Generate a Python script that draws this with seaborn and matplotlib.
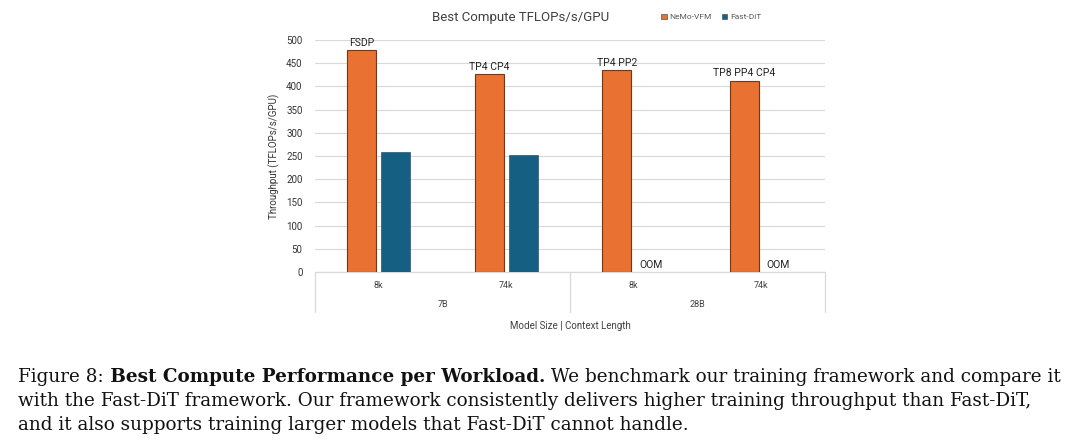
import numpy as np
import pandas as pd
import matplotlib
matplotlib.use("Agg")
import matplotlib.pyplot as plt
import matplotlib.transforms as mtransforms
import seaborn as sns

# =====================================================
# DATA
# =====================================================

model_sizes = ["7B", "7B", "28B", "28B"]
context_lengths = ["8k", "74k", "8k", "74k"]
nemo_vfm = [478, 426, 435, 412]
fast_dit = [259, 252, np.nan, np.nan]
parallel_labels = ["FSDP", "TP4 CP4", "TP4 PP2", "TP8 PP4 CP4"]
frameworks = ["NeMo-VFM", "Fast-DiT"]
yticks = [0, 50, 100, 150, 200, 250, 300, 350, 400, 450, 500]

caption_lines = [
    [("Figure 8:", "normal"), (" Best Compute Performance per Workload.", "bold"),
     (" We benchmark our training framework and compare it", "normal")],
    [("with the Fast-DiT framework. Our framework consistently delivers higher training throughput than Fast-DiT,", "normal")],
    [("and it also supports training larger models that Fast-DiT cannot handle.", "normal")],
]

# =====================================================
# STYLE
# =====================================================

sns.set_theme(style="white")
plt.rcParams["font.family"] = ["Roboto", "DejaVu Sans"]

ORANGE = "#E97132"
BLUE = "#156082"
GRID = "#d9d9d9"
TEXT = "#404040"

# =====================================================
# LONG FORM TABLE
# =====================================================

slots = [f"{m}|{c}" for m, c in zip(model_sizes, context_lengths)]
df = pd.DataFrame({
    "slot": slots * 2,
    "framework": [frameworks[0]] * 4 + [frameworks[1]] * 4,
    "value": list(nemo_vfm) + list(fast_dit),
})

# =====================================================
# FIGURE
# =====================================================

fig = plt.figure(figsize=(10.8, 4.48), dpi=100)
ax = fig.add_axes([0.2917, 0.393, 0.4722, 0.5178])

BAR_WIDTH = 0.53
sns.barplot(
    data=df, x="slot", y="value", hue="framework", order=slots,
    hue_order=frameworks, palette=[ORANGE, BLUE], saturation=1,
    width=BAR_WIDTH, gap=0.14, ax=ax, legend=False, zorder=3,
)

# bar edges: orange bars have a dark outline
for patch in ax.containers[0]:
    patch.set_edgecolor("#7a3513")
    patch.set_linewidth(0.8)
for patch in ax.containers[1]:
    patch.set_edgecolor("#0e4058")
    patch.set_linewidth(0.4)

ax.set_xlim(-0.5, 3.5)
ax.set_ylim(0, 500)
ax.set_yticks(yticks)
ax.tick_params(axis="y", labelsize=7, colors="#333333", length=0, pad=9)
ax.set_xticks([])
ax.set_xlabel("")
ax.set_ylabel("Throughput (TFLOPs/s/GPU)", fontsize=7, color="#333333", labelpad=4)
ax.yaxis.grid(True, color=GRID, linewidth=0.8, zorder=0)
ax.set_axisbelow(True)
for s in ax.spines.values():
    s.set_visible(False)

# annotations above orange bars and OOM markers
half = BAR_WIDTH / 4
for i in range(len(slots)):
    ax.text(i - half, nemo_vfm[i] + 5, parallel_labels[i], ha="center", va="bottom",
            fontsize=7.5, color="#222222", clip_on=False)
    if np.isnan(fast_dit[i]):
        ax.text(i + half, 5, "OOM", ha="center", va="bottom", fontsize=7.5, color="#222222")

# category table below the axis
trans = mtransforms.blended_transform_factory(ax.transData, ax.transAxes)
ax.plot([-0.5, 3.5], [0, 0], color=GRID, lw=0.9, transform=trans, clip_on=False)
for xv in [-0.5, 1.5, 3.5]:
    ax.plot([xv, xv], [0, -0.172], color=GRID, lw=0.9, transform=trans, clip_on=False)
for i, c in enumerate(context_lengths):
    ax.text(i, -0.06, c, ha="center", va="center", fontsize=6.5, color=TEXT, transform=trans)
groups = {}
for i, m in enumerate(model_sizes):
    groups.setdefault(m, []).append(i)
for m, idx in groups.items():
    ax.text(np.mean(idx), -0.142, m, ha="center", va="center", fontsize=6.5, color=TEXT,
            transform=trans)
ax.text(0.5, -0.233, "Model Size | Context Length", ha="center", va="center",
        fontsize=7, color=TEXT, transform=ax.transAxes)

# title and legend
fig.text(0.4825, 0.962, "Best Compute TFLOPs/s/GPU", ha="center", va="center",
         fontsize=9.5, color=TEXT)
handles = [plt.Rectangle((0, 0), 1, 1, facecolor=c, edgecolor="#555555", lw=0.5)
           for c in [ORANGE, BLUE]]
fig.legend(handles, frameworks, loc="center left", bbox_to_anchor=(0.605, 0.962),
           ncol=2, frameon=False, fontsize=6, labelcolor="#595959",
           handlelength=0.7, handleheight=0.7, handletextpad=0.3, columnspacing=1.2)

# =====================================================
# CAPTION (mixed weight pieces chained one after another)
# =====================================================

CAP_SIZE = 13.2
baselines = [382, 406, 430]
caption_texts = []
for line, yb in zip(caption_lines, baselines):
    for k, (txt, weight) in enumerate(line):
        t = fig.text(18 / 1080, 1 - yb / 448, txt, ha="left", va="baseline",
                     fontsize=CAP_SIZE, fontweight=weight, family="DejaVu Serif",
                     color="#111111")
        caption_texts.append((t, k > 0))

fig.canvas.draw()
renderer = fig.canvas.get_renderer()
inv = fig.transFigure.inverted()
prev = None
for t, chained in caption_texts:
    if chained:
        bb = prev.get_window_extent(renderer)
        x0, _ = inv.transform((bb.x1, 0))
        t.set_position((x0, prev.get_position()[1]))
    prev = t

fig.savefig("out.png", dpi=100)
